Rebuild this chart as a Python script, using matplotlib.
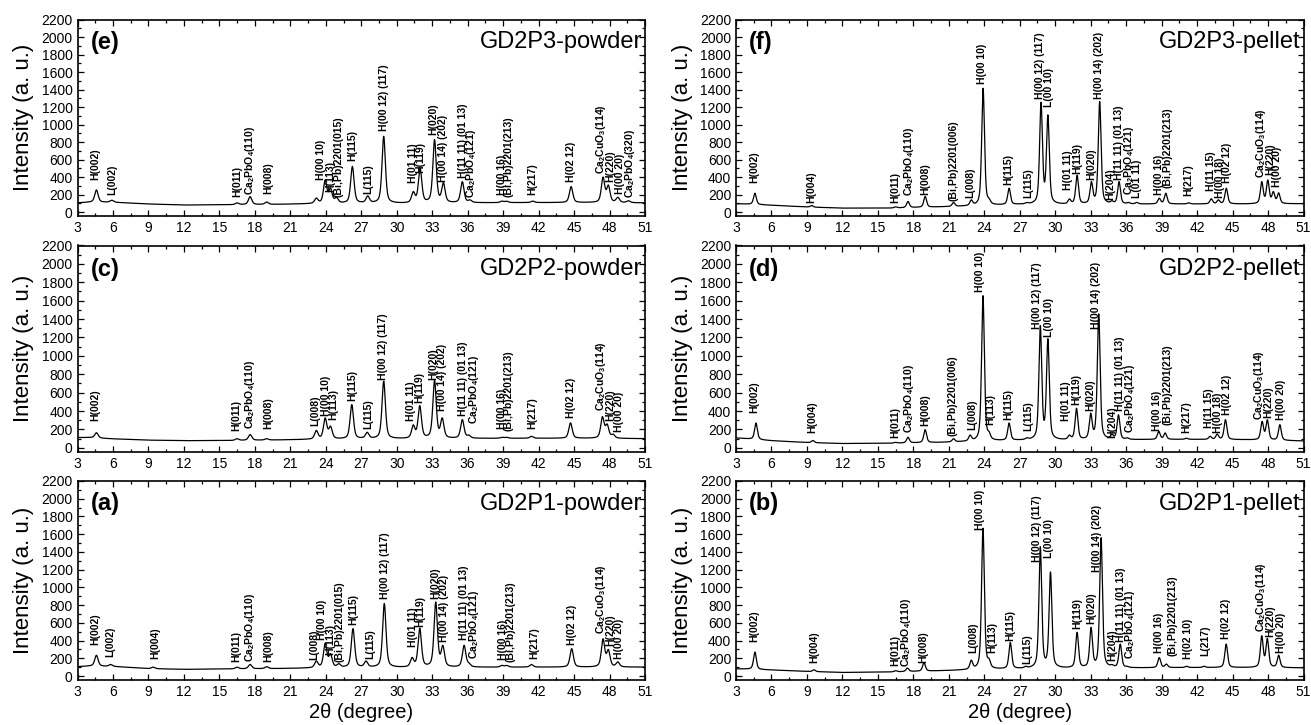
import matplotlib.pyplot as plt
import numpy as np
from matplotlib.ticker import MultipleLocator

plt.rcParams["font.family"] = ["Liberation Sans", "DejaVu Sans"]
plt.rcParams["mathtext.default"] = "regular"

CPO = "Ca$_2$PbO$_4$"
CCO = "Ca$_2$CuO$_3$"

# background knots shared by all patterns (2theta, degree)
BASE_2T = [3, 4, 6, 9, 12, 16, 20, 23, 27, 31, 36, 41, 46, 51]

# ---- (e) GD2P3 powder ----
E_BASE = [105, 112, 112, 92, 80, 84, 88, 95, 100, 98, 105, 108, 108, 105]
E_POS = [4.6, 5.9, 16.5, 17.6, 19.0, 23.2, 23.95, 24.4, 24.9, 26.25, 27.55, 28.9,
         31.4, 31.98, 33.2, 33.95, 35.55, 36.2, 38.9, 39.3, 41.5, 44.75,
         47.45, 47.9, 48.7, 49.6]
E_INT = [253, 135, 105, 176, 115, 160, 368, 275, 170, 522, 185, 866,
         235, 502, 828, 337, 348, 140, 125, 125, 125, 291,
         400, 310, 170, 130]
E_LABELS = [
    ("H(002)", 4.52, 368), ("L(002)", 5.96, 195), ("H(011)", 16.5, 176),
    (CPO + "(110)", 17.6, 195), ("H(008)", 19.1, 210), ("H(00 10)", 23.57, 368),
    ("H(113)", 24.4, 233), ("(Bi,Pb)2201(015)", 25.1, 176), ("H(115)", 26.25, 578),
    ("L(115)", 27.55, 210), ("H(00 12) (117)", 28.93, 923), ("H(01 11)", 31.36, 337),
    ("H(119)", 31.98, 445), ("H(020)", 33.1, 880), ("H(00 14) (202)", 33.9, 349),
    ("H(11 11) (01 13)", 35.6, 387), (CPO + "(121)", 36.27, 160), ("H(00 16)", 38.9, 195),
    ("(Bi,Pb)2201(213)", 39.46, 176), ("H(217)", 41.5, 195), ("H(02 12)", 44.74, 349),
    (CCO + "(114)", 47.3, 440), ("H(220)", 48.1, 340), ("H(00 20)", 48.85, 210),
    (CPO + "(320)", 49.75, 160),
]

# ---- (c) GD2P2 powder ----
C_BASE = [112, 112, 98, 84, 78, 80, 86, 92, 98, 98, 102, 104, 104, 100]
C_POS = [4.6, 16.5, 17.6, 19.0, 23.2, 23.95, 24.4, 26.2, 27.5, 28.9,
         31.4, 31.95, 33.2, 33.85, 35.55, 36.1, 38.9, 39.3, 41.4, 44.7,
         47.4, 47.8, 48.3]
C_INT = [165, 100, 145, 100, 190, 326, 237, 471, 170, 725,
         250, 460, 736, 326, 308, 140, 115, 115, 125, 272,
         340, 260, 150]
C_LABELS = [
    ("H(002)", 4.52, 290), ("H(011)", 16.46, 181), (CPO + "(110)", 17.6, 200),
    ("H(008)", 19.1, 200), ("L(008)", 23.15, 235), ("H(00 10)", 23.98, 344),
    ("H(113)", 24.6, 308), ("H(115)", 26.2, 507), ("L(115)", 27.6, 200),
    ("H(00 12) (117)", 28.88, 743), ("H(01 11)", 31.2, 290), ("H(119)", 31.9, 490),
    ("H(020)", 33.1, 743), ("H(00 14) (202)", 33.8, 398), ("H(11 11) (01 13)", 35.6, 344),
    (CPO + "(121)", 36.5, 257), ("H(00 16)", 38.9, 200), ("(Bi,Pb)2201(213)", 39.46, 180),
    ("H(217)", 41.45, 200), ("H(02 12)", 44.74, 326), (CCO + "(114)", 47.3, 400),
    ("H(220)", 48.05, 290), ("H(00 20)", 48.8, 170),
]

# ---- (a) GD2P1 powder ----
A_BASE = [105, 112, 108, 84, 75, 80, 84, 90, 95, 95, 98, 100, 100, 100]
A_POS = [4.6, 5.8, 9.4, 16.5, 17.6, 19.0, 23.2, 23.95, 24.4, 25.1, 26.3, 27.4,
         28.95, 31.3, 31.95, 33.3, 33.9, 35.7, 36.1, 38.9, 39.3, 41.4, 44.8,
         47.45, 47.9, 48.7]
A_INT = [234, 130, 100, 100, 130, 105, 170, 370, 253, 140, 535, 170,
         818, 210, 540, 836, 347, 347, 150, 120, 120, 130, 309,
         420, 300, 160]
A_LABELS = [
    ("H(002)", 4.52, 347), ("L(002)", 5.8, 215), ("H(004)", 9.55, 196),
    ("H(011)", 16.46, 158), (CPO + "(110)", 17.6, 158), ("H(008)", 19.1, 158),
    ("L(008)", 23.0, 177), ("H(00 10)", 23.7, 403), ("H(113)", 24.36, 234),
    ("(Bi,Pb)2201(015)", 25.2, 158), ("H(115)", 26.33, 573), ("L(115)", 27.75, 196),
    ("H(00 12) (117)", 29.0, 874), ("H(01 11)", 31.4, 328), ("H(119)", 31.96, 554),
    ("H(020)", 33.25, 874), ("H(00 14) (202)", 33.96, 384), ("H(11 11) (01 13)", 35.65, 403),
    (CPO + "(121)", 36.5, 196), ("H(00 16)", 38.99, 177), ("(Bi,Pb)2201(213)", 39.6, 158),
    ("H(217)", 41.6, 196), ("H(02 12)", 44.8, 347), (CCO + "(114)", 47.3, 470),
    ("H(220)", 48.05, 340), ("H(00 20)", 48.8, 190),
]

# ---- (f) GD2P3 pellet ----
F_BASE = [95, 90, 78, 58, 45, 45, 58, 68, 85, 85, 90, 92, 92, 95]
F_POS = [4.6, 9.4, 16.5, 17.55, 19.0, 21.4, 22.9, 23.9, 24.4, 26.1, 27.6, 28.8,
         29.38, 31.2, 31.85, 33.06, 33.76, 34.8, 35.4, 36.2, 36.9, 38.8, 39.35,
         41.3, 43.2, 43.8, 44.47, 47.47, 47.98, 48.45, 48.9]
F_INT = [215, 75, 60, 121, 178, 110, 140, 1414, 160, 272, 110, 1255,
         1111, 150, 420, 348, 1263, 130, 348, 110, 110, 159, 215,
         105, 152, 140, 272, 348, 367, 235, 220]
F_LABELS = [
    ("H(002)", 4.52, 329), ("H(004)", 9.4, 102), ("H(011)", 16.5, 102),
    (CPO + "(110)", 17.6, 178), ("H(008)", 19.0, 197), ("(Bi,Pb)2201(006)", 21.4, 121),
    ("L(008)", 22.8, 159), ("H(00 10)", 23.8, 1463), ("H(115)", 26.05, 310),
    ("L(115)", 27.7, 159), ("H(00 12) (117)", 28.74, 1293), ("L(00 10)", 29.5, 1198),
    ("H(01 11)", 31.1, 254), ("H(119)", 31.85, 440), ("H(020)", 33.06, 367),
    ("H(00 14) (202)", 33.68, 1293), ("H(204)", 34.67, 140), ("H(11 11) (01 13)", 35.37, 367),
    (CPO + "(121)", 36.2, 197), ("L(01 11)", 36.93, 159), ("H(00 16)", 38.76, 197),
    ("(Bi,Pb)2201(213)", 39.5, 272), ("H(217)", 41.25, 178), ("H(11 15)", 43.2, 235),
    ("H(00 18)", 43.9, 159), ("H(02 12)", 44.55, 329), (CCO + "(114)", 47.4, 386),
    ("H(220)", 48.2, 424), ("H(00 20)", 48.75, 291),
]

# ---- (d) GD2P2 pellet ----
D_BASE = [108, 98, 78, 58, 47, 50, 58, 68, 80, 82, 88, 92, 88, 75]
D_POS = [4.69, 9.5, 16.5, 17.55, 19.0, 21.4, 22.8, 23.89, 24.4, 26.1, 27.6, 28.74,
         29.38, 31.2, 31.8, 33.0, 33.68, 34.8, 35.35, 36.1, 38.76, 39.3, 41.1,
         43.1, 43.7, 44.4, 47.5, 47.94, 49.0]
D_INT = [270, 80, 60, 115, 198, 100, 140, 1654, 180, 270, 110, 1330,
         1187, 140, 431, 378, 1456, 150, 360, 110, 180, 162, 105,
         126, 150, 306, 288, 306, 252]
D_LABELS = [
    ("H(002)", 4.52, 378), ("H(004)", 9.45, 162), ("H(011)", 16.5, 108),
    (CPO + "(110)", 17.6, 162), ("H(008)", 19.0, 234), ("(Bi,Pb)2201(006)", 21.35, 126),
    ("L(008)", 22.95, 198), ("H(00 10)", 23.66, 1690), ("H(113)", 24.5, 252),
    ("H(115)", 26.06, 306), ("L(115)", 27.7, 180), ("H(00 12) (117)", 28.46, 1294),
    ("L(00 10)", 29.5, 1205), ("H(01 11)", 30.94, 295), ("H(119)", 31.76, 467),
    ("H(020)", 32.97, 396), ("H(00 14) (202)", 33.48, 1294), ("H(204)", 34.8, 108),
    ("H(11 11) (01 13)", 35.45, 396), (CPO + "(121)", 36.36, 162), ("H(00 16)", 38.62, 180),
    ("(Bi,Pb)2201(213)", 39.47, 252), ("H(217)", 41.1, 162), ("H(11 15)", 43.0, 216),
    ("H(00 18)", 43.79, 162), ("H(02 12)", 44.55, 360), (CCO + "(114)", 47.2, 306),
    ("H(220)", 48.06, 324), ("H(00 20)", 49.1, 306),
]

# ---- (b) GD2P1 pellet ----
B_BASE = [80, 78, 68, 52, 40, 45, 58, 68, 80, 85, 90, 95, 95, 92]
B_POS = [4.6, 9.6, 16.5, 17.5, 18.9, 22.9, 23.89, 24.4, 26.2, 27.5, 28.74, 29.6,
         31.85, 33.03, 33.88, 34.8, 35.5, 36.1, 38.8, 39.4, 41.1, 42.6, 44.46,
         47.47, 47.94, 48.9]
B_INT = [270, 70, 60, 90, 150, 180, 1667, 200, 379, 110, 1458, 1174,
         492, 549, 1560, 130, 360, 110, 208, 135, 110, 110, 360,
         455, 424, 235]
B_LABELS = [
    ("H(002)", 4.52, 380), ("H(004)", 9.6, 150), ("H(011)", 16.5, 110),
    (CPO + "(110)", 17.4, 100), ("H(008)", 18.8, 150), ("L(008)", 23.1, 265),
    ("H(00 10)", 23.66, 1648), ("H(113)", 24.65, 265), ("H(115)", 26.2, 398),
    ("L(115)", 27.6, 133), ("H(00 12) (117)", 28.5, 1288), ("L(00 10)", 29.5, 1326),
    ("H(119)", 31.85, 530), ("H(020)", 33.03, 587), ("H(00 14) (202)", 33.54, 1174),
    ("H(204)", 34.8, 170), ("H(11 11) (01 13)", 35.57, 379), (CPO + "(121)", 36.36, 189),
    ("H(00 16)", 38.76, 265), ("(Bi,Pb)2201(213)", 39.9, 227), ("H(02 10)", 41.2, 189),
    ("L(217)", 42.7, 227), ("H(02 12)", 44.46, 417), (CCO + "(114)", 47.37, 492),
    ("H(220)", 48.16, 436), ("H(00 20)", 49.06, 265),
]


def pv(x, c, w, eta=0.5):
    # unit-height pseudo-Voigt line shape
    d = (x - c) / (w / 2)
    return eta / (1 + d ** 2) + (1 - eta) * np.exp(-np.log(2) * d ** 2)


def pattern(pos, inten, base, w):
    tt = np.linspace(3, 51, 4801)
    pos = np.asarray(pos, float)
    inten = np.asarray(inten, float)
    # peak amplitudes so the summed pattern reaches each listed intensity
    m = pv(pos[:, None], pos[None, :], w)
    amp = np.linalg.solve(m, inten - np.interp(pos, BASE_2T, base))
    amp = np.clip(amp, 0, None)
    y = np.interp(tt, BASE_2T, base) + (amp[None, :] * pv(tt[:, None], pos[None, :], w)).sum(axis=1)
    return tt, y


def draw_panel(ax, pos, inten, base, labels, tag, name, w, xlabel=False):
    tt, y = pattern(pos, inten, base, w)
    ax.plot(tt, y, color="black", lw=0.9)
    for text, x, yy in labels:
        ax.text(x, yy, text, rotation=90, ha="center", va="bottom",
                fontsize=7.5, fontweight="bold")
    ax.set_xlim(3, 51)
    ax.set_ylim(-45, 2200)
    ax.set_xticks(np.arange(3, 52, 3))
    ax.set_yticks(np.arange(0, 2201, 200))
    ax.xaxis.set_minor_locator(MultipleLocator(1.5))
    ax.yaxis.set_minor_locator(MultipleLocator(100))
    ax.tick_params(which="both", direction="in", top=True, right=True, width=0.9)
    ax.tick_params(which="major", length=4.5, labelsize=10)
    ax.tick_params(which="minor", length=2.5)
    for s in ax.spines.values():
        s.set_linewidth(1.2)
    ax.set_ylabel("Intensity (a. u.)", fontsize=16)
    ax.yaxis.set_label_coords(-0.076, 0.5)
    ax.text(0.023, 0.885, tag, transform=ax.transAxes, ha="left", va="center",
            fontsize=17, fontweight="bold")
    ax.text(0.995, 0.885, name, transform=ax.transAxes, ha="right", va="center",
            fontsize=17)
    if xlabel:
        ax.set_xlabel("2θ (degree)", fontsize=14.5)
        ax.xaxis.set_label_coords(0.5, -0.115)


fig = plt.figure(figsize=(13.11, 7.25), dpi=100)
W, H = 1311, 725
cols = [77.5, 736]
col_w = 567.5
rows = [(19.5, 216), (245.5, 452), (481, 680)]


def make_ax(col, row):
    x0 = cols[col]
    top, bot = rows[row]
    return fig.add_axes([x0 / W, 1 - bot / H, col_w / W, (bot - top) / H])


draw_panel(make_ax(0, 0), E_POS, E_INT, E_BASE, E_LABELS, "(e)", "GD2P3-powder", 0.34)
draw_panel(make_ax(0, 1), C_POS, C_INT, C_BASE, C_LABELS, "(c)", "GD2P2-powder", 0.34)
draw_panel(make_ax(0, 2), A_POS, A_INT, A_BASE, A_LABELS, "(a)", "GD2P1-powder", 0.34, xlabel=True)
draw_panel(make_ax(1, 0), F_POS, F_INT, F_BASE, F_LABELS, "(f)", "GD2P3-pellet", 0.28)
draw_panel(make_ax(1, 1), D_POS, D_INT, D_BASE, D_LABELS, "(d)", "GD2P2-pellet", 0.28)
draw_panel(make_ax(1, 2), B_POS, B_INT, B_BASE, B_LABELS, "(b)", "GD2P1-pellet", 0.28, xlabel=True)

fig.savefig("out.png", dpi=100)
